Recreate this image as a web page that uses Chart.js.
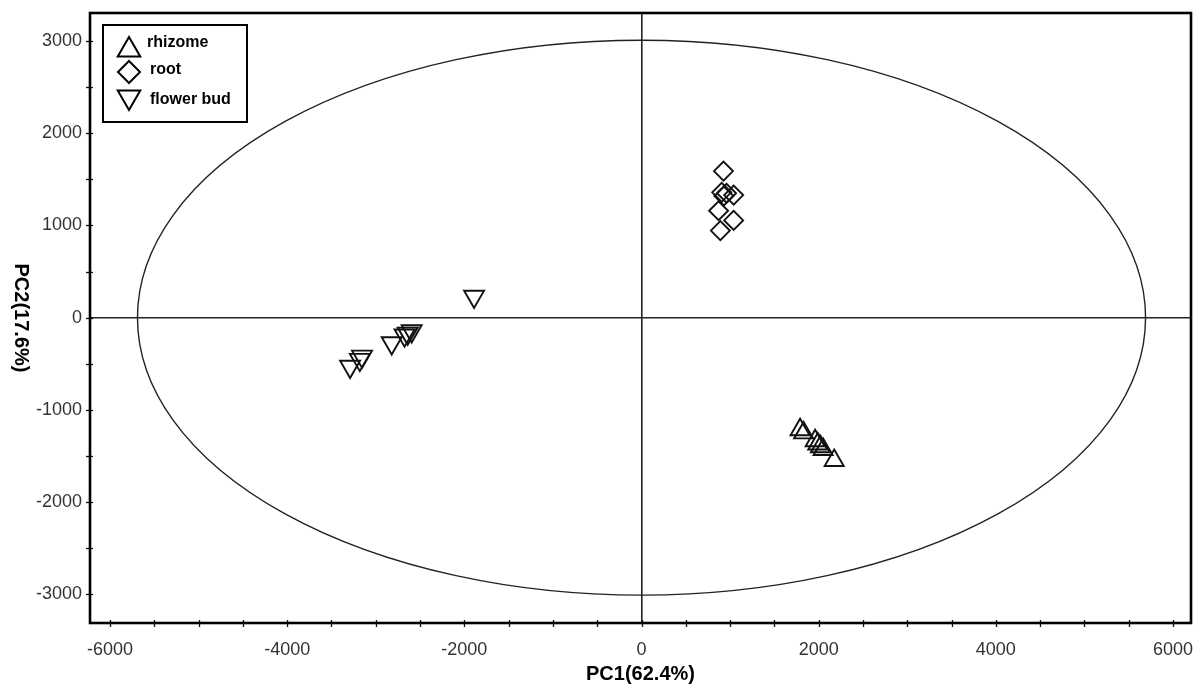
<!DOCTYPE html>
<html>
<head>
<meta charset="utf-8">
<script src="https://cdn.jsdelivr.net/npm/chart.js@4/dist/chart.umd.min.js"></script>
<style>
html,body{margin:0;padding:0;background:#fff;}
#wrap{width:1195px;height:686px;position:relative;}
</style>
</head>
<body>
<div id="wrap"><canvas id="c" width="1195" height="686"></canvas></div>
<script>
// ---- data ----
const seriesNames = ['rhizome', 'root', 'flower bud'];
const rhizomePC1 = [1790, 1830, 1960, 1990, 2020, 2050, 2175];
const rhizomePC2 = [-1215, -1250, -1335, -1370, -1400, -1430, -1550];
const rootPC1 = [925, 905, 960, 930, 1040, 870, 1040, 890];
const rootPC2 = [1590, 1360, 1350, 1320, 1330, 1160, 1055, 945];
const budPC1 = [-1890, -2595, -2640, -2675, -2820, -3155, -3180, -3290];
const budPC2 = [230, -145, -170, -190, -275, -420, -455, -530];
const ellipseAxes = [5690, 3010]; // Hotelling T2 ellipse semi-axes (PC1, PC2)
const xTitle = 'PC1(62.4%)';
const yTitle = 'PC2(17.6%)';
const xRange = [-6226, 6203];
const yRange = [-3312, 3305];
const xTickValues = [-6000, -5500, -5000, -4500, -4000, -3500, -3000, -2500, -2000, -1500, -1000, -500, 0,
                     500, 1000, 1500, 2000, 2500, 3000, 3500, 4000, 4500, 5000, 5500, 6000];
const xTickLabels = ['-6000', '-4000', '-2000', '0', '2000', '4000', '6000'];
const yTickValues = [-3000, -2500, -2000, -1500, -1000, -500, 0, 500, 1000, 1500, 2000, 2500, 3000];
const yTickLabels = ['-3000', '-2000', '-1000', '0', '1000', '2000', '3000'];

const toPts = (xs, ys) => xs.map((x, i) => ({x: x, y: ys[i]}));

const INK = '#111';
const FONT = '"Liberation Sans", Arial, sans-serif';

const framePlugin = {
  id: 'frame',
  beforeDatasetsDraw(chart) {
    const ctx = chart.ctx, xs = chart.scales.x, ys = chart.scales.y;
    const cx = xs.getPixelForValue(0), cy = ys.getPixelForValue(0);
    const rx = xs.getPixelForValue(ellipseAxes[0]) - cx;
    const ry = cy - ys.getPixelForValue(ellipseAxes[1]);
    ctx.save();
    ctx.beginPath();
    ctx.ellipse(cx, cy, rx, ry, 0, 0, Math.PI * 2);
    ctx.strokeStyle = '#222';
    ctx.lineWidth = 1.4;
    ctx.stroke();
    ctx.restore();
  },
  afterDraw(chart) {
    const ctx = chart.ctx, a = chart.chartArea, xs = chart.scales.x, ys = chart.scales.y;
    ctx.save();
    ctx.strokeStyle = INK;
    ctx.lineWidth = 1.3;
    xs.ticks.forEach(t => {
      const px = Math.round(xs.getPixelForValue(t.value)) + 0.5;
      ctx.beginPath(); ctx.moveTo(px, a.bottom - 3); ctx.lineTo(px, a.bottom + 4); ctx.stroke();
    });
    ys.ticks.forEach(t => {
      const py = Math.round(ys.getPixelForValue(t.value)) + 0.5;
      ctx.beginPath(); ctx.moveTo(a.left - 4, py); ctx.lineTo(a.left + 3, py); ctx.stroke();
    });
    ctx.lineWidth = 2.6;
    ctx.strokeStyle = '#000';
    ctx.strokeRect(a.left, a.top, a.right - a.left, a.bottom - a.top);
    ctx.save();
    ctx.translate(21, (a.top + a.bottom) / 2);
    ctx.rotate(Math.PI / 2);
    ctx.font = 'bold 20px ' + FONT;
    ctx.fillStyle = '#000';
    ctx.textAlign = 'center';
    ctx.textBaseline = 'middle';
    ctx.fillText(yTitle, 0, 0);
    ctx.restore();
    const lx = a.left + 13, ly = a.top + 12, lw = 144, lh = 97;
    ctx.lineWidth = 2;
    ctx.strokeRect(lx, ly, lw, lh);
    const rows = [
      {y: ly + 25, style: 'triangle', rot: 0, r: 13, tx: lx + 44, ty: ly + 18},
      {y: ly + 47, style: 'rectRot', rot: 0, r: 11, tx: lx + 47, ty: ly + 45},
      {y: ly + 72, style: 'triangle', rot: 180, r: 13, tx: lx + 47, ty: ly + 75}
    ];
    ctx.font = 'bold 16px ' + FONT;
    ctx.textBaseline = 'middle';
    ctx.textAlign = 'left';
    rows.forEach((row, i) => {
      ctx.strokeStyle = '#000';
      ctx.fillStyle = 'rgba(0,0,0,0)';
      ctx.lineWidth = 2;
      Chart.helpers.drawPoint(ctx, {pointStyle: row.style, rotation: row.rot, radius: row.r, borderWidth: 2}, lx + 26, row.y);
      ctx.fillStyle = '#000';
      ctx.fillText(chart.data.datasets[i].label, row.tx, row.ty);
    });
    ctx.restore();
  }
};

const baseDs = {
  borderColor: INK,
  backgroundColor: 'rgba(0,0,0,0)',
  pointBorderWidth: 1.9,
  pointHoverRadius: 10
};

const zeroColor = c => (c.tick && c.tick.value === 0) ? '#222' : 'rgba(0,0,0,0)';
const zeroWidth = c => (c.tick && c.tick.value === 0) ? 1.6 : 0;

new Chart(document.getElementById('c'), {
  type: 'scatter',
  data: {
    datasets: [
      Object.assign({}, baseDs, {label: seriesNames[0], data: toPts(rhizomePC1, rhizomePC2), pointStyle: 'triangle', rotation: 0, pointRadius: 11}),
      Object.assign({}, baseDs, {label: seriesNames[1], data: toPts(rootPC1, rootPC2), pointStyle: 'rectRot', rotation: 0, pointRadius: 9.5}),
      Object.assign({}, baseDs, {label: seriesNames[2], data: toPts(budPC1, budPC2), pointStyle: 'triangle', rotation: 180, pointRadius: 11.5})
    ]
  },
  options: {
    responsive: false,
    animation: false,
    layout: {autoPadding: false, padding: {top: 13, right: 4, left: 0, bottom: 0}},
    plugins: {legend: {display: false}, tooltip: {enabled: false}},
    scales: {
      x: {
        type: 'linear',
        min: xRange[0], max: xRange[1],
        border: {display: false},
        grid: {drawTicks: false, color: zeroColor, lineWidth: zeroWidth},
        afterBuildTicks: s => { s.ticks = xTickValues.map(v => ({value: v})); },
        ticks: {
          autoSkip: false, maxRotation: 0,
          padding: 16, color: '#333', font: {family: FONT, size: 18},
          callback: v => xTickLabels.includes(String(v)) ? String(v) : ''
        },
        title: {display: true, text: xTitle, color: '#000', font: {family: FONT, size: 20, weight: 'bold'}, padding: {top: 0, bottom: 0}},
        afterFit: s => { s.height = 63; s.paddingLeft = 0; s.paddingRight = 0; }
      },
      y: {
        type: 'linear',
        min: yRange[0], max: yRange[1],
        border: {display: false},
        grid: {drawTicks: false, color: zeroColor, lineWidth: zeroWidth},
        afterBuildTicks: s => { s.ticks = yTickValues.map(v => ({value: v})); },
        ticks: {
          autoSkip: false,
          padding: 8, color: '#333', font: {family: FONT, size: 18},
          callback: v => yTickLabels.includes(String(v)) ? String(v) : ''
        },
        afterFit: s => { s.width = 90; s.paddingTop = 0; s.paddingBottom = 0; }
      }
    }
  },
  plugins: [framePlugin]
});
</script>
</body>
</html>
